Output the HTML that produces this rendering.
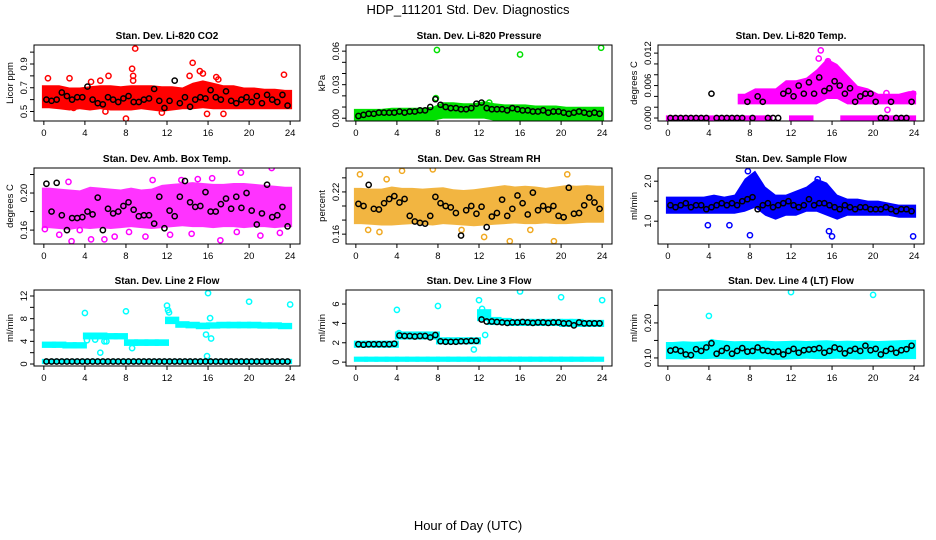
<!DOCTYPE html>
<html><head><meta charset="utf-8">
<style>
html,body{margin:0;padding:0;background:#fff;}
svg{display:block;font-family:"Liberation Sans",Helvetica,Arial,sans-serif;}
</style></head>
<body>
<svg id="chart" width="936" height="540" viewBox="0 0 936 540" xmlns="http://www.w3.org/2000/svg">
<rect width="936" height="540" fill="#fff"/>
<text x="468" y="14" font-size="13" text-anchor="middle">HDP_111201 Std. Dev. Diagnostics</text>
<text x="468" y="530" font-size="13" text-anchor="middle">Hour of Day (UTC)</text>
<g id="panels"></g>
</svg>
<script>
// ---------- data ----------
const xTicks=[0,4,8,12,16,20,24];
// Panel 1: CO2
const p1Lo=[0.55,0.54,0.53,0.54,0.53,0.54,0.53,0.53,0.53,0.54,0.53,0.52,0.53,0.54,0.54,0.55,0.54,0.54,0.54,0.54,0.54,0.54,0.54,0.54];
const p1Hi=[0.70,0.70,0.68,0.68,0.69,0.70,0.70,0.69,0.70,0.70,0.70,0.69,0.69,0.68,0.72,0.74,0.72,0.70,0.70,0.68,0.68,0.67,0.67,0.66];
const p1OutX=[8.9,8.6,8.7,8.7,8.0,14.5,15.2,15.5,16.8,23.4,6.3,4.6,5.5,0.4,2.5,15.9,17.5,2.9,6.0,11.5,14.2,17.0];
const p1OutY=[1.03,0.86,0.80,0.76,0.44,0.91,0.84,0.82,0.79,0.81,0.80,0.75,0.76,0.78,0.78,0.48,0.48,0.53,0.50,0.49,0.80,0.77];
const p1Black=[0.60,0.59,0.60,0.66,0.63,0.60,0.62,0.62,0.71,0.60,0.57,0.56,0.62,0.60,0.58,0.61,0.63,0.58,0.58,0.60,0.61,0.69,0.59,0.53,0.59,0.76,0.57,0.62,0.54,0.60,0.62,0.61,0.68,0.62,0.60,0.67,0.59,0.57,0.60,0.62,0.58,0.63,0.57,0.64,0.60,0.58,0.64,0.55];
const p1Ticks=[0.5,0.6,0.7,0.8,0.9,1.0];
const p1Labels=[0.5,0.7,0.9];
// Panel 2: Pressure
const p2Lo=[0,0,0,0,0,0,0,0,0.002,0.002,0.002,0.002,0.002,0,0,0,0,0,0,0,0,0,0,0];
const p2Hi=[0.006,0.006,0.006,0.007,0.007,0.007,0.007,0.008,0.012,0.012,0.011,0.011,0.013,0.011,0.010,0.010,0.010,0.009,0.009,0.009,0.008,0.008,0.008,0.008];
const p2OutX=[7.9,16.0,23.9,7.8,13.0];
const p2OutY=[0.061,0.057,0.063,0.018,0.014];
const p2Black=[0.002,0.003,0.004,0.004,0.005,0.005,0.005,0.005,0.006,0.005,0.006,0.006,0.007,0.007,0.010,0.017,0.012,0.010,0.009,0.009,0.008,0.008,0.009,0.013,0.014,0.009,0.008,0.008,0.008,0.007,0.009,0.008,0.007,0.007,0.006,0.006,0.007,0.005,0.006,0.006,0.005,0.004,0.005,0.006,0.005,0.004,0.005,0.004];
const p2Ticks=[0,0.01,0.02,0.03,0.04,0.05,0.06];
const p2Labels=["0.00","0.03","0.06"];
// Panel 3: Temp
const p3Zero=[0,0,0,0,0,0,0,0,0,0,null,null,0,0,null,null,null,0,0,0,0,0,0,0];
const p3Lo=[null,null,null,null,null,null,null,0.003,0.003,0.003,0.003,0.003,0.003,0.003,0.003,0.004,0.004,0.003,0.003,0.003,0.003,0.003,0.003,0.003];
const p3Hi=[null,null,null,null,null,null,null,0.004,0.005,0.005,0.005,0.0065,0.0065,0.007,0.0085,0.0105,0.0095,0.0075,0.0055,0.005,0.004,0.004,0.004,0.0045];
const p3OutX=[14.9,14.7,21.3,21.4,23.9,15.6];
const p3OutY=[0.0125,0.011,0.0046,0.0015,0.0045,0.0105];
const p3Black=[0,0,0,0,0,0,0,0,0.0045,0,0,0,0,0,0,0.003,0,0.004,0.003,0,0,0,0.0045,0.005,0.004,0.006,0.0045,0.0066,0.0045,0.0075,0.005,0.0055,0.0068,0.006,0.0045,0.0055,0.003,0.004,0.0045,0.0045,0.003,0,0,0.003,0,0,0,0.003];
const p3Ticks=[0,0.002,0.004,0.006,0.008,0.010,0.012];
const p3Labels=["0.000","0.006","0.012"];
// Panel 4: Amb box temp
const p4Lo=[0.165,0.164,0.163,0.165,0.164,0.165,0.164,0.165,0.166,0.165,0.164,0.165,0.166,0.167,0.166,0.166,0.165,0.166,0.166,0.165,0.166,0.166,0.165,0.166];
const p4Hi=[0.203,0.202,0.201,0.200,0.204,0.203,0.202,0.201,0.203,0.201,0.202,0.206,0.207,0.208,0.209,0.208,0.207,0.207,0.208,0.208,0.207,0.206,0.205,0.204];
const p4OutX=[2.4,2.7,4.6,5.9,10.6,13.4,15.0,16.4,17.2,19.2,22.2,0.1,1.5,3.5,6.9,8.3,9.9,12.3,14.4,18.8,21.1,23.0];
const p4OutY=[0.212,0.148,0.150,0.150,0.214,0.214,0.215,0.216,0.149,0.222,0.227,0.161,0.155,0.160,0.153,0.158,0.153,0.155,0.156,0.158,0.154,0.157];
const p4Black=[0.210,0.180,0.211,0.176,0.160,0.173,0.173,0.174,0.180,0.177,0.195,0.160,0.183,0.178,0.180,0.186,0.190,0.182,0.175,0.176,0.176,0.167,0.196,0.162,0.181,0.175,0.196,0.213,0.190,0.185,0.186,0.201,0.180,0.180,0.188,0.194,0.183,0.196,0.184,0.200,0.181,0.166,0.178,0.209,0.174,0.176,0.185,0.164];
const p4Ticks=[0.16,0.18,0.20,0.22];
const p4Labels=["0.16","0.20"];
// Panel 5: Gas stream RH
const p5Lo=[0.178,0.177,0.176,0.176,0.177,0.178,0.177,0.176,0.178,0.177,0.176,0.175,0.176,0.177,0.178,0.179,0.178,0.178,0.179,0.178,0.178,0.179,0.180,0.180];
const p5Hi=[0.222,0.221,0.221,0.224,0.222,0.222,0.221,0.222,0.223,0.220,0.219,0.220,0.222,0.224,0.226,0.224,0.225,0.224,0.222,0.224,0.226,0.225,0.226,0.225];
const p5OutX=[0.4,7.5,4.5,20.6,15.0,19.3,12.5,2.3,3.0,1.2,10.3,17.0];
const p5OutY=[0.245,0.252,0.250,0.245,0.150,0.150,0.156,0.163,0.238,0.166,0.166,0.166];
const p5Black=[0.203,0.200,0.230,0.196,0.195,0.204,0.210,0.214,0.205,0.210,0.186,0.178,0.176,0.175,0.186,0.213,0.204,0.200,0.198,0.190,0.158,0.194,0.200,0.189,0.199,0.170,0.185,0.190,0.209,0.186,0.196,0.215,0.204,0.188,0.219,0.194,0.200,0.195,0.200,0.186,0.184,0.226,0.189,0.190,0.201,0.212,0.205,0.196];
const p5Ticks=[0.16,0.18,0.20,0.22,0.24];
const p5Labels=["0.16","0.22"];
// Panel 6: Sample flow
const p6Lo=[1.25,1.25,1.25,1.25,1.25,1.25,1.25,1.30,1.40,1.20,1.10,1.20,1.20,1.30,1.30,1.20,1.10,1.20,1.20,1.20,1.20,1.20,1.15,1.15];
const p6Hi=[1.55,1.55,1.55,1.55,1.60,1.55,1.60,2.00,2.20,1.80,1.60,1.60,1.70,1.80,2.00,1.90,1.60,1.50,1.50,1.45,1.45,1.40,1.35,1.35];
const p6OutX=[8.0,16.0,15.7,23.9,3.9,6.0,7.8,14.6];
const p6OutY=[0.65,0.62,0.75,0.62,0.90,0.90,2.25,2.05];
const p6Black=[1.40,1.35,1.40,1.45,1.35,1.40,1.40,1.30,1.35,1.40,1.45,1.40,1.45,1.40,1.50,1.55,1.60,1.30,1.40,1.45,1.35,1.40,1.45,1.50,1.40,1.35,1.40,1.55,1.40,1.45,1.45,1.40,1.35,1.30,1.40,1.35,1.30,1.35,1.35,1.30,1.30,1.30,1.35,1.30,1.25,1.30,1.30,1.25];
const p6Ticks=[1.0,1.5,2.0];
const p6Labels=["1.0","2.0"];
// Panel 7: Line 2 flow
const p7Base=[0.45,0.45,0.45,0.45,0.45,0.45,0.45,0.45,0.45,0.45,0.45,0.45,0.45,0.45,0.45,0.45,0.45,0.45,0.45,0.45,0.45,0.45,0.45,0.45];
const p7Lo=[3.3,3.3,3.2,3.2,4.8,4.8,4.8,4.8,3.65,3.65,3.65,3.65,7.5,6.85,6.75,6.6,6.7,6.75,6.75,6.75,6.75,6.7,6.7,6.6];
const p7Hi=[3.5,3.5,3.4,3.4,5.1,5.1,5.0,5.0,3.9,3.9,3.9,3.9,7.9,7.1,7.0,6.85,6.9,7.0,7.0,7.0,7.0,6.9,6.9,6.8];
const p7OutX=[4.0,12.0,12.1,12.2,16.0,20.0,24.0,8.0,4.2,5.0,5.5,8.6,16.2,15.8,15.9,16.3,5.9,6.1];
const p7OutY=[9.0,10.3,9.5,9.1,12.5,11.0,10.5,9.3,4.2,4.3,2.0,2.8,8.1,5.2,1.4,4.5,4.0,4.0];
const p7Black=[0.45,0.45,0.45,0.45,0.45,0.45,0.45,0.45,0.45,0.45,0.45,0.45,0.45,0.45,0.45,0.45,0.45,0.45,0.45,0.45,0.45,0.45,0.45,0.45,0.45,0.45,0.45,0.45,0.45,0.45,0.45,0.45,0.45,0.45,0.45,0.45,0.45,0.45,0.45,0.45,0.45,0.45,0.45,0.45,0.45,0.45,0.45,0.45];
const p7Ticks=[0,2,4,6,8,10,12];
const p7Labels=[0,4,8,12];
// Panel 8: Line 3 flow
const p8Base=[0.3,0.3,0.3,0.3,0.3,0.3,0.3,0.3,0.3,0.3,0.3,0.3,0.3,0.3,0.3,0.3,0.3,0.3,0.3,0.3,0.3,0.3,0.3,0.3];
const p8Lo=[1.75,1.75,1.75,1.75,2.6,2.6,2.6,2.6,2.1,2.1,2.1,2.1,4.5,4.1,4.1,4.0,4.0,4.0,4.0,4.0,3.9,3.9,3.9,3.9];
const p8Hi=[1.95,1.95,1.95,1.95,2.9,2.9,2.9,2.9,2.3,2.3,2.3,2.3,5.2,4.4,4.3,4.2,4.2,4.2,4.2,4.2,4.2,4.2,4.1,4.1];
const p8OutX=[4.0,8.0,12.0,12.3,16.0,20.0,24.0,4.2,11.5,12.4,12.6];
const p8OutY=[5.4,5.8,6.4,5.5,7.3,6.7,6.4,3.0,1.3,5.1,2.8];
const p8Black=[1.85,1.80,1.85,1.85,1.85,1.85,1.85,1.90,2.75,2.70,2.70,2.65,2.70,2.70,2.55,2.80,2.15,2.10,2.10,2.10,2.15,2.15,2.20,2.20,4.40,4.20,4.20,4.15,4.10,4.05,4.10,4.10,4.15,4.10,4.05,4.10,4.10,4.05,4.10,4.10,4.00,4.00,3.80,4.10,4.00,4.00,4.00,4.00];
const p8Ticks=[0,2,4,6];
const p8Labels=[0,2,4,6];
// Panel 9: Line 4 (LT) flow
const p9Lo=[0.104,0.103,0.105,0.104,0.105,0.104,0.103,0.104,0.103,0.104,0.102,0.103,0.104,0.105,0.104,0.104,0.105,0.104,0.103,0.104,0.104,0.105,0.104,0.104];
const p9Hi=[0.138,0.140,0.139,0.140,0.145,0.142,0.140,0.141,0.140,0.142,0.140,0.141,0.142,0.141,0.142,0.143,0.141,0.142,0.141,0.142,0.141,0.142,0.143,0.144];
const p9OutX=[4.0,12.0,20.0,4.3];
const p9OutY=[0.220,0.288,0.280,0.145];
const p9Black=[0.121,0.124,0.120,0.110,0.108,0.125,0.120,0.130,0.142,0.112,0.120,0.128,0.112,0.120,0.128,0.118,0.120,0.130,0.122,0.120,0.117,0.118,0.110,0.120,0.126,0.115,0.122,0.124,0.125,0.128,0.115,0.120,0.130,0.126,0.113,0.121,0.126,0.120,0.135,0.122,0.126,0.110,0.120,0.126,0.115,0.122,0.125,0.135];
const p9Ticks=[0.10,0.15,0.20,0.25];
const p9Labels=["0.10","0.20"];

// ---------- drawing ----------
const NS="http://www.w3.org/2000/svg";
const root=document.getElementById('panels');
const COLS=[34,346,658], ROWS=[45,168,290], W=266, H=76;
function mk(tag,attrs,parent){const e=document.createElementNS(NS,tag);for(const k in attrs)e.setAttribute(k,attrs[k]);(parent||root).appendChild(e);return e;}

const panels=[
 {title:"Stan. Dev. Li-820 CO2",ylab:"Licor ppm",ymin:0.42,ymax:1.06,col:"#ff0000",bands:[[p1Lo,p1Hi]],ox:p1OutX,oy:p1OutY,blk:p1Black,ticks:p1Ticks,labels:p1Labels},
 {title:"Stan. Dev. Li-820 Pressure",ylab:"kPa",ymin:-0.0025,ymax:0.0655,col:"#00e000",bands:[[p2Lo,p2Hi]],ox:p2OutX,oy:p2OutY,blk:p2Black,ticks:p2Ticks,labels:p2Labels},
 {title:"Stan. Dev. Li-820 Temp.",ylab:"degrees C",ymin:-0.00055,ymax:0.0135,col:"#ff00ff",bands:[[p3Zero,p3Zero],[p3Lo,p3Hi]],ox:p3OutX,oy:p3OutY,blk:p3Black,ticks:p3Ticks,labels:p3Labels},
 {title:"Stan. Dev. Amb. Box Temp.",ylab:"degrees C",ymin:0.145,ymax:0.227,col:"#ff00ff",bands:[[p4Lo,p4Hi]],ox:p4OutX,oy:p4OutY,blk:p4Black,ticks:p4Ticks,labels:p4Labels,op:0.8},
 {title:"Stan. Dev. Gas Stream RH",ylab:"percent",ymin:0.146,ymax:0.254,col:"#f0a820",bands:[[p5Lo,p5Hi]],ox:p5OutX,oy:p5OutY,blk:p5Black,ticks:p5Ticks,labels:p5Labels,op:0.85},
 {title:"Stan. Dev. Sample Flow",ylab:"ml/min",ymin:0.43,ymax:2.33,col:"#0000ff",bands:[[p6Lo,p6Hi]],ox:p6OutX,oy:p6OutY,blk:p6Black,ticks:p6Ticks,labels:p6Labels},
 {title:"Stan. Dev. Line 2 Flow",ylab:"ml/min",ymin:-0.35,ymax:13.06,col:"#00ffff",bands:[[p7Base,p7Base],[p7Lo,p7Hi]],ox:p7OutX,oy:p7OutY,blk:p7Black,ticks:p7Ticks,labels:p7Labels,step:true},
 {title:"Stan. Dev. Line 3 Flow",ylab:"ml/min",ymin:-0.4,ymax:7.45,col:"#00ffff",bands:[[p8Base,p8Base],[p8Lo,p8Hi]],ox:p8OutX,oy:p8OutY,blk:p8Black,ticks:p8Ticks,labels:p8Labels,step:true},
 {title:"Stan. Dev. Line 4 (LT) Flow",ylab:"ml/min",ymin:0.077,ymax:0.294,col:"#00ffff",bands:[[p9Lo,p9Hi]],ox:p9OutX,oy:p9OutY,blk:p9Black,ticks:p9Ticks,labels:p9Labels}
];

panels.forEach((p,i)=>{
  const L=COLS[i%3], T=ROWS[Math.floor(i/3)], B=T+H;
  const xs=t=>L+W*(t+0.96)/25.92;
  const ys=v=>B-H*(v-p.ymin)/(p.ymax-p.ymin);
  const g=mk('g',{});
  
  
  const cp=mk('clipPath',{id:'cp'+i},g);
  mk('rect',{x:L,y:T,width:W,height:H},cp);
  const pg=mk('g',{'clip-path':'url(#cp'+i+')'},g);
  
  
  // bands
  p.bands.forEach(([lo,hi])=>{
    if(p.step){
      for(let h=0;h<lo.length;h++){
        if(lo[h]===null||hi[h]===null)continue;
        const y1=ys(hi[h])-2.6, y2=ys(lo[h])+2.6;
        const r=mk('rect',{x:xs(h)-2,y:y1,width:xs(h+1)-xs(h)+4,height:y2-y1,fill:p.col,'fill-opacity':p.op||1},pg);
        
        
      }
      return;
    }
    // smooth polygons over contiguous runs, through hourly midpoints
    let h=0;
    while(h<lo.length){
      if(lo[h]===null){h++;continue;}
      let e=h; while(e+1<lo.length&&lo[e+1]!==null)e++;
      const top=[],bot=[];
      for(let k=h;k<=e;k++){
        const xa=(k===h)?xs(k)-2:xs(k+0.5), xb=(k===e)?xs(k+1)+2:null;
        top.push([xa,ys(hi[k])-2.6]); bot.push([xa,ys(lo[k])+2.6]);
        if(xb!==null){top.push([xb,ys(hi[k])-2.6]); bot.push([xb,ys(lo[k])+2.6]);}
        if(k===h&&h!==e){top.push([xs(k+0.5),ys(hi[k])-2.6]); bot.push([xs(k+0.5),ys(lo[k])+2.6]);}
      }
      const pts=top.concat(bot.reverse()).map(q=>q[0].toFixed(1)+','+q[1].toFixed(1)).join(' ');
      const pl=mk('polygon',{points:pts,fill:p.col,'fill-opacity':p.op||1},pg);
      
      
      h=e+1;
    }
  });
  // outliers
  p.ox.forEach((x,k)=>{
    const c=mk('circle',{cx:xs(x),cy:ys(p.oy[k]),r:2.6,fill:'none',stroke:p.col,'stroke-width':1.5},pg);
    
    
  });
  // black points
  p.blk.forEach((v,k)=>{
    const c=mk('circle',{cx:xs(k*0.5+0.25),cy:ys(v),r:2.6,fill:'none',stroke:'#000','stroke-width':1.5},pg);
    
    
  });
  // box
  const bx=mk('rect',{x:L,y:T,width:W,height:H,fill:'none',stroke:'#000','stroke-width':1},g);
  
  
  // title
  const tt=mk('text',{x:L+W/2,y:T-6,'font-size':10,'font-weight':'bold','text-anchor':'middle'},g);
  tt.textContent=p.title;
  
  
  // x axis
  xTicks.forEach(t=>{
    mk('line',{x1:xs(t),x2:xs(t),y1:B,y2:B+4,stroke:'#000'},g);
    const tx=mk('text',{x:xs(t),y:B+15,'font-size':9.5,'text-anchor':'middle'},g);
    tx.textContent=t;
    
    
  });
  // y axis
  mk('line',{x1:L,x2:L,y1:ys(p.ticks[0]),y2:ys(p.ticks[p.ticks.length-1]),stroke:'#000'},g);
  p.ticks.forEach(v=>{mk('line',{x1:L-4,x2:L,y1:ys(v),y2:ys(v),stroke:'#000'},g);});
  p.labels.forEach(v=>{
    const yy=ys(parseFloat(v));
    const tx=mk('text',{x:L-7,y:yy,'font-size':9.5,'text-anchor':'middle',transform:'rotate(-90 '+(L-7)+' '+yy+')'},g);
    tx.textContent=v;
    
    
  });
  const yl=L-21, ym=T+H/2;
  const yt=mk('text',{x:yl,y:ym,'font-size':9.5,'text-anchor':'middle',transform:'rotate(-90 '+yl+' '+ym+')'},g);
  yt.textContent=p.ylab;
  
  
});
</script>
</body></html>
